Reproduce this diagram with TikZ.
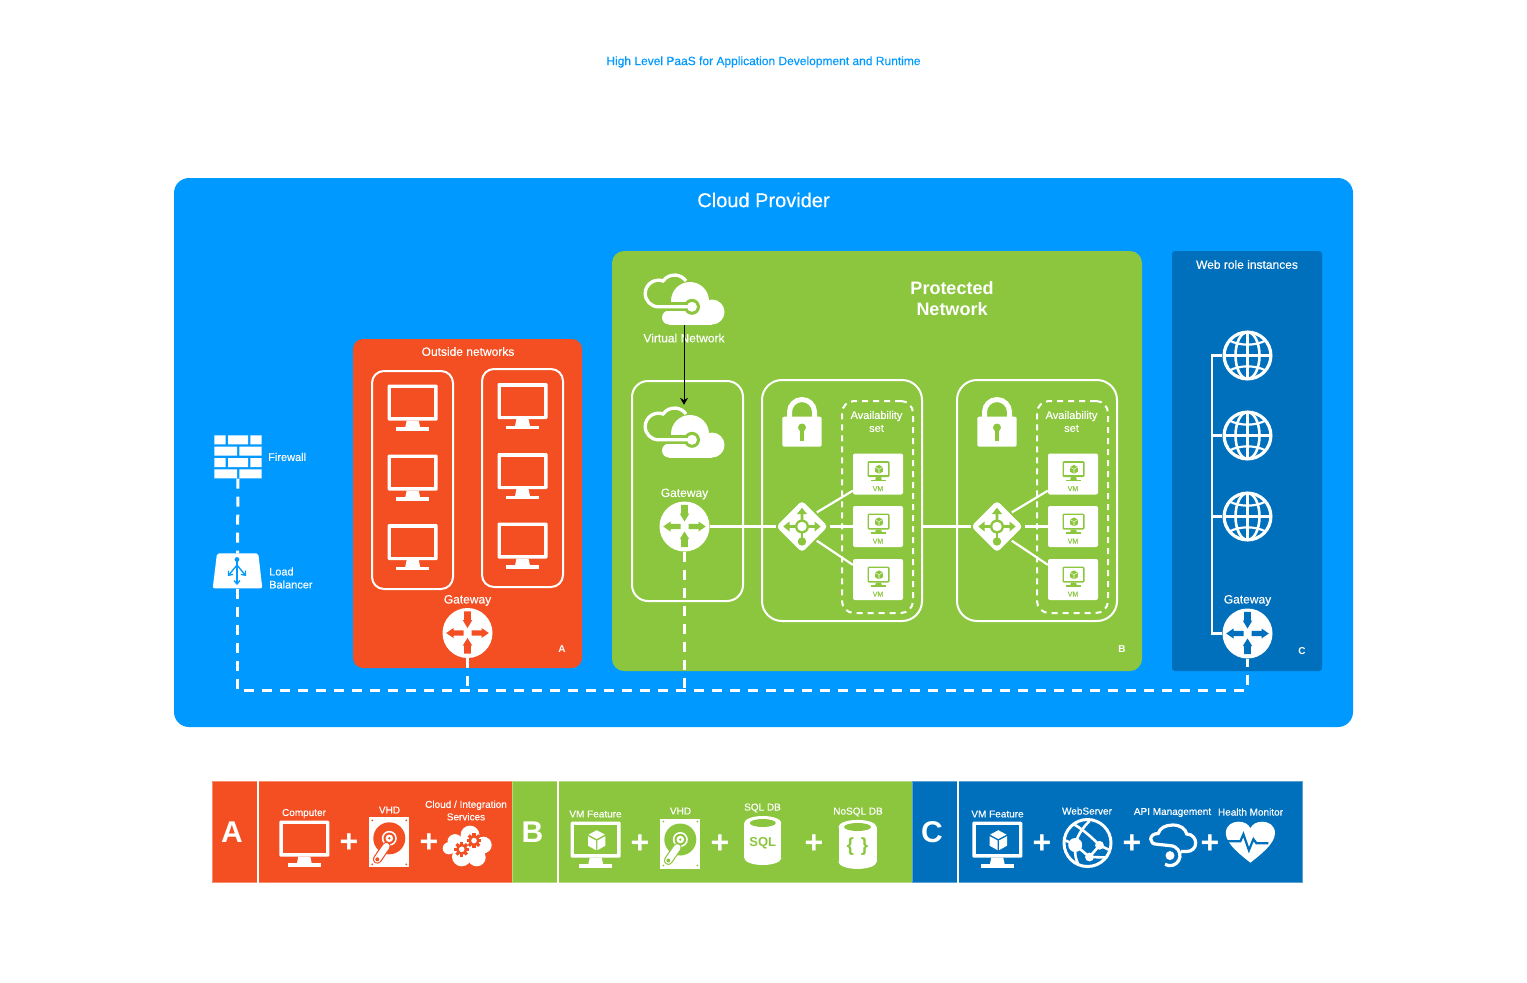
\documentclass[tikz,border=0pt]{standalone}
\usepackage{fontspec}
\setmainfont{Liberation Sans}[FakeBold=0.25,BoldFeatures={FakeBold=0}]
\usetikzlibrary{arrows.meta,shapes.geometric}
\definecolor{cloudblue}{HTML}{0099FF}
\definecolor{orangea}{HTML}{F44F22}
\definecolor{greenb}{HTML}{8CC63E}
\definecolor{bluec}{HTML}{0070BC}
\tikzset{
  whitetext/.style={text=white, inner sep=0pt, align=center},
  txtsm/.style={whitetext, font=\fontsize{10}{12.5}\selectfont},
  txtmd/.style={whitetext, font=\fontsize{11}{13}\selectfont},
  txtlg/.style={whitetext, font=\fontsize{12}{14}\selectfont},
  txtletter/.style={whitetext, font=\fontsize{10}{12}\bfseries\selectfont},
  legendletter/.style={whitetext, font=\fontsize{30}{30}\bfseries\selectfont},
  legendplus/.style={whitetext, font=\fontsize{32}{32}\bfseries\selectfont},
  panel/.style={inner sep=0pt, rounded corners=#1},
  framebox/.style={draw=white, line width=2pt, inner sep=0pt, rounded corners=#1},
  dashbox/.style={draw=white, line width=2pt, dash pattern=on 6pt off 5pt, inner sep=0pt, rounded corners=12pt},
  legendbox/.style={inner sep=0pt, line width=1pt},
  iconspot/.style={inner sep=0pt},
  gwdisc/.style={circle, fill=white, minimum size=50pt, inner sep=0pt},
  routerspot/.style={diamond, fill=white, minimum width=52pt, minimum height=52pt, inner sep=0pt, rounded corners=4pt},
  vmtile/.style={fill=white, rounded corners=2pt, minimum width=50pt, minimum height=41pt, inner sep=0pt, text=greenb, text height=34pt, text depth=0pt, font=\fontsize{7}{7}\selectfont},
  wline/.style={draw=white, line width=2.2pt},
  busline/.style={draw=white, line width=3pt, dash pattern=on 10pt off 8pt},
  pics/monitoricon/.style 2 args={code={
    \fill[#1, rounded corners=1.2pt] (-25,-23) rectangle (25,13);
    \fill[#2] (-21.5,-19.3) rectangle (21.5,9.5);
    \fill[#1] (-6,13) -- (6,13) -- (7.5,20) -- (-7.5,20) -- cycle;
    \fill[#1] (-16.5,19.5) rectangle (16.5,23);
  }},
  pics/vmscreen/.style 2 args={code={
    \pic[transform shape] at (0,0) {monitoricon={#1}{#2}};
    \begin{scope}[shift={(1,-4.5)}]
      \fill[#1] (0,-10) -- (8.2,-5.6) -- (0,-1.2) -- (-8.2,-5.6) -- cycle;
      \fill[#1] (-8.7,-4) -- (-0.7,0.3) -- (-0.7,10) -- (-8.7,5.5) -- cycle;
      \fill[#1] (8.7,-4) -- (0.7,0.3) -- (0.7,10) -- (8.7,5.5) -- cycle;
    \end{scope}
  }},
  pics/vmglyph/.style={code={
    \pic[scale=.44] at (.5,-2.7) {vmscreen={greenb}{white}};
  }},
  pics/gwarrows/.style={code={
    \fill[#1] (-3.3,-21.7) -- (3.3,-21.7) -- (3.3,-13) -- (4.8,-13) -- (0,-5) -- (-4.8,-13) -- (-3.3,-13) -- cycle;
    \fill[#1] (-3.3,20.7) -- (3.3,20.7) -- (3.3,12.7) -- (4.8,12.7) -- (0,5) -- (-4.8,12.7) -- (-3.3,12.7) -- cycle;
    \fill[#1] (-4,-2.7) -- (-14,-2.7) -- (-14,-5) -- (-21.3,0) -- (-14,5) -- (-14,2.7) -- (-4,2.7) -- cycle;
    \fill[#1] (4,-2.7) -- (14,-2.7) -- (14,-5) -- (21.3,0) -- (14,5) -- (14,2.7) -- (4,2.7) -- cycle;
  }},
  pics/routerglyph/.style={code={
    \fill[#1] (-1.3,0) -- (-1.3,-12.5) -- (-5,-12.5) -- (0,-18.7) -- (5,-12.5) -- (1.3,-12.5) -- (1.3,0) -- cycle;
    \fill[#1] (0,-1.3) -- (-12.5,-1.3) -- (-12.5,-5) -- (-18.7,0) -- (-12.5,5) -- (-12.5,1.3) -- (0,1.3) -- cycle;
    \fill[#1] (0,-1.3) -- (12.5,-1.3) -- (12.5,-5) -- (18.7,0) -- (12.5,5) -- (12.5,1.3) -- (0,1.3) -- cycle;
    \fill[#1] (-1.3,0) rectangle (1.3,14);
    \fill[#1] (0,15) circle[radius=4.2];
    \fill[#1] (0,0) circle[radius=7];
    \fill[white] (0,0) circle[radius=4.7];
  }},
  pics/vnetcloud/.style={code={
    \fill[white] (6,2.5) circle[radius=19] (28,13.5) circle[radius=12.5] (-15,19) circle[radius=7];
    \fill[white] (-15,10) rectangle (28,26);
    \draw[#1, line width=9pt] (-24,8.3) -- (8,8.3);
    \fill[#1] (8,8.3) circle[radius=8];
    \fill[white] (8,8.3) circle[radius=5];
    \draw[white, line width=3.3pt] (5,8.3) -- (-25.5,8.3) arc[start angle=90, end angle=290, radius=13.3] arc[start angle=215, end angle=325, radius=14];
  }},
  pics/lockicon/.style={code={
    \draw[white, line width=5pt] (-12.5,-3) -- (-12.5,-10) arc[start angle=180, end angle=360, radius=12.5] -- (12.5,-3);
    \fill[white, rounded corners=2pt] (-19.7,-5.3) rectangle (19.7,24.7);
    \fill[#1] (0,5.5) circle[radius=4];
    \fill[#1] (-2,5.5) rectangle (2,19);
  }},
  pics/gridglobe/.style={code={
    \draw[white, line width=3.2pt] (0,0) circle[radius=23.4];
    \draw[white, line width=2.6pt] (0,0) ellipse[x radius=12, y radius=23.4];
    \draw[white, line width=2.6pt] (0,-23) -- (0,23) (-23,0) -- (23,0);
    \draw[white, line width=2.2pt] (-18,-15) .. controls (-8,-9.5) and (8,-9.5) .. (18,-15);
    \draw[white, line width=2.2pt] (-18,15) .. controls (-8,9.5) and (8,9.5) .. (18,15);
  }},
  pics/firewallicon/.style={code={
    \fill[white] (-23.7,-21.7) rectangle (-12.3,-12.7) (-10,-21.7) rectangle (10,-12.7) (12.3,-21.7) rectangle (23.7,-12.7);
    \fill[white] (-23.7,-10.3) rectangle (-1,-1.3) (1.3,-10.3) rectangle (23.7,-1.3);
    \fill[white] (-23.7,1) rectangle (-12.3,10) (-10,1) rectangle (10,10) (12.3,1) rectangle (23.7,10);
    \fill[white] (-23.7,12.3) rectangle (-1,21.3) (1.3,12.3) rectangle (23.7,21.3);
  }},
  pics/balancericon/.style={code={
    \fill[white, rounded corners=2pt] (-20.5,-17.7) -- (20.8,-17.7) -- (24.8,17.3) -- (-24.8,17.3) -- cycle;
    \fill[cloudblue] (-.5,-11.5) circle[radius=2.4];
    \draw[cloudblue, line width=1.3pt, -{Straight Barb[length=3.5pt,width=6pt]}] (-.5,-11) -- (-.5,14);
    \draw[cloudblue, line width=1.3pt, -{Straight Barb[length=3.5pt,width=6pt]}] (-.5,-6) -- (-9.5,5);
    \draw[cloudblue, line width=1.3pt, -{Straight Barb[length=3.5pt,width=6pt]}] (-.5,-6) -- (8.5,5);
  }},
  pics/hddicon/.style={code={
    \fill[white] (-20,-25) rectangle (20,25);
    \fill[#1] (-17,-22) circle[radius=1] (17,-22) circle[radius=1] (-17,22) circle[radius=1] (17,22) circle[radius=1];
    \fill[#1] (0,-4) circle[radius=16];
    \fill[white] (0,-4) circle[radius=7.5];
    \fill[#1] (0,-4) circle[radius=5.8];
    \fill[white] (0,-4) circle[radius=3.8];
    \fill[#1] (0,-4) circle[radius=1.3];
    \draw[#1, line width=9pt, line cap=round] (-3,4) -- (-12,17);
    \draw[white, line width=6.6pt, line cap=round] (-3,4) -- (-12,17);
    \fill[#1] (-12,17) circle[radius=2];
  }},
  pics/gearmark/.style={code={
    \foreach \a in {0,45,...,315} {
      \fill[#1, rotate=\a] (-1.6,-7.4) rectangle (1.6,0);
    }
    \fill[#1] (0,0) circle[radius=5.6];
    \fill[white] (0,0) circle[radius=2.8];
  }},
  pics/gearcloud/.style={code={
    \fill[white] (-12.7,-4.7) circle[radius=7.5] (2.3,-11.3) circle[radius=9.4] (15.7,-1.3) circle[radius=8.3] (-19,2) circle[radius=6] (-6,10.3) circle[radius=9.7] (9,11) circle[radius=9] (0,0) circle[radius=12];
    \pic at (-6,3) {gearmark=#1};
    \pic at (6.3,-5.7) {gearmark=#1};
  }},
  pics/dbcan/.style={code={
    \fill[white] (0,-17.5) ellipse[x radius=#1, y radius=7] (0,17.5) ellipse[x radius=#1, y radius=7];
    \fill[white] (-#1,-17.5) rectangle (#1,17.5);
  }},
  pics/wwwicon/.style={code={
    \draw[white, line width=3pt] (0,0) circle[radius=23.5];
    \fill[white] (-12.3,2) circle[radius=7] (12,2.3) circle[radius=4.4] (2,14) circle[radius=4.4];
    \draw[white, line width=2.6pt] (-14,-19) .. controls (-4,-13) and (4,-6) .. (12,2.3) -- (22,7);
    \draw[white, line width=2.6pt] (-12.3,2) .. controls (-10,-8) and (-5,-15) .. (2,-22);
    \draw[white, line width=2.6pt] (-12.3,2) -- (2,14) -- (20,14.5);
    \draw[white, line width=2.6pt] (-12.3,2) .. controls (-13,10) and (-12,16) .. (-9,22);
    \draw[white, line width=2.6pt] (12,2.3) -- (2,14) (-23,-3) -- (-12.3,2);
  }},
  pics/apicloud/.style={code={
    \draw[white, line width=3.2pt] (-7.7,19.3) arc[start angle=120, end angle=-90, radius=10] -- (-15,-0.7) .. controls (-20,-0.7) and (-22,-3) .. (-22,-6) .. controls (-22,-9) and (-19,-11.5) .. (-14.5,-11.5) .. controls (-13,-17) and (-7,-20) .. (0,-20) .. controls (8,-20) and (13,-16) .. (14,-11) .. controls (20,-11) and (23,-6) .. (23,-2) .. controls (23,3) and (19,6.5) .. (14,6.5) -- (8.5,6.5);
    \fill[white] (-2.7,10.6) circle[radius=4.5];
  }},
  pics/hearticon/.style={code={
    \fill[white] (0,20.5) .. controls (-8,14) and (-24.6,2) .. (-24.6,-9) .. controls (-24.6,-17) and (-18,-20.5) .. (-12,-20.5) .. controls (-6,-20.5) and (-2,-18) .. (0,-14) .. controls (2,-18) and (6,-20.5) .. (12,-20.5) .. controls (18,-20.5) and (24.6,-17) .. (24.6,-9) .. controls (24.6,2) and (8,14) .. cycle;
    \draw[#1, line width=2.2pt] (-25,-1) -- (-10,-1) -- (-7,-8) -- (-1.5,8) -- (3,-3) -- (6,1) -- (18,1);
  }}
}
\begin{document}
\begin{tikzpicture}[x=1pt, y=-1pt]
  \useasboundingbox (0,0) rectangle (1527,983);
  \node[font=\fontsize{12}{14}\selectfont, text=cloudblue, inner sep=0pt] (maintitle) at (763.5,62) {High Level PaaS for Application Development and Runtime};

  \node[panel=15pt, fill=cloudblue, minimum width=1179pt, minimum height=549pt] (provider) at (763.5,452.5) {};
  \node[whitetext, font=\fontsize{20}{24}\selectfont] (providertitle) at (763.5,200) {Cloud Provider};

  \node[iconspot, minimum width=47pt, minimum height=43pt] (fw) at (238,457) {};
  \pic at (fw) {firewallicon};
  \node[txtmd, anchor=west] (fwtext) at (268,457) {Firewall};
  \node[iconspot, minimum width=49pt, minimum height=35pt] (lb) at (237.5,571) {};
  \node[txtmd, anchor=west, align=left] (lbtext) at (269,578) {Load\\Balancer};

  \node[panel=10pt, fill=orangea, minimum width=229pt, minimum height=329pt] (outside) at (467.5,503.5) {};
  \node[txtlg] (outsidetext) at (468,351.5) {Outside networks};
  \node[framebox=12pt, minimum width=81pt, minimum height=218pt] (outleft) at (412.5,480) {};
  \node[framebox=12pt, minimum width=81pt, minimum height=218pt] (outright) at (522.5,478) {};
  \pic at (412.7,407.5) {monitoricon={white}{orangea}};
  \pic at (412.7,477.5) {monitoricon={white}{orangea}};
  \pic at (412.7,547) {monitoricon={white}{orangea}};
  \pic at (522.5,406) {monitoricon={white}{orangea}};
  \pic at (522.5,476) {monitoricon={white}{orangea}};
  \pic at (522.5,545.5) {monitoricon={white}{orangea}};
  \node[txtlg] (gwatext) at (467.5,600.5) {Gateway};
  \node[gwdisc] (gwa) at (467.5,633) {};
  \pic at (gwa) {gwarrows=orangea};
  \node[txtletter] (tagA) at (562,649) {A};

  \node[panel=12pt, fill=greenb, minimum width=530pt, minimum height=420pt] (protected) at (877,461) {};
  \node[whitetext, font=\fontsize{18}{21}\bfseries\selectfont] (protectedtext) at (952,299) {Protected\\Network};
  \node[iconspot, minimum width=82pt, minimum height=53pt] (vnet) at (684,298.5) {};
  \pic at (vnet) {vnetcloud=greenb};
  \node[txtlg] (vnettext) at (684,338) {Virtual Network};
  \node[framebox=16pt, minimum width=111pt, minimum height=220pt] (gwbox) at (687.5,491) {};
  \node[iconspot, minimum width=82pt, minimum height=53pt] (vgw) at (684,431.5) {};
  \pic at (vgw) {vnetcloud=greenb};
  \node[txtlg] (gwbtext) at (684.5,494) {Gateway};
  \node[gwdisc] (gwb) at (684.5,526.5) {};
  \pic at (gwb) {gwarrows=greenb};
  \draw[black, line width=1pt, -{Stealth[length=7pt,width=8pt]}] (vnet.south) -- (vgw.north);

  \node[framebox=20pt, minimum width=160pt, minimum height=241pt] (setone) at (842,500.5) {};
  \node[iconspot, minimum width=40pt, minimum height=50pt] (lockone) at (802,422) {};
  \pic at (lockone) {lockicon=greenb};
  \node[dashbox, minimum width=71pt, minimum height=212pt] (dashone) at (877.5,507) {};
  \node[txtmd] (dashonetext) at (876.5,421.5) {Availability\\set};
  \node[vmtile] (vma) at (878,474) {VM};
  \node[vmtile] (vmb) at (878,526.5) {VM};
  \node[vmtile] (vmc) at (878,579.5) {VM};
  \pic at (vma) {vmglyph};
  \pic at (vmb) {vmglyph};
  \pic at (vmc) {vmglyph};
  \node[routerspot] (rta) at (802,526.5) {};
  \pic at (rta) {routerglyph=greenb};

  \node[framebox=20pt, minimum width=160pt, minimum height=241pt] (settwo) at (1037,500.5) {};
  \node[iconspot, minimum width=40pt, minimum height=50pt] (locktwo) at (997,422) {};
  \pic at (locktwo) {lockicon=greenb};
  \node[dashbox, minimum width=71pt, minimum height=212pt] (dashtwo) at (1072.5,507) {};
  \node[txtmd] (dashtwotext) at (1071.5,421.5) {Availability\\set};
  \node[vmtile] (vmd) at (1073,474) {VM};
  \node[vmtile] (vme) at (1073,526.5) {VM};
  \node[vmtile] (vmf) at (1073,579.5) {VM};
  \pic at (vmd) {vmglyph};
  \pic at (vme) {vmglyph};
  \pic at (vmf) {vmglyph};
  \node[routerspot] (rtb) at (997,526.5) {};
  \pic at (rtb) {routerglyph=greenb};
  \node[txtletter] (tagB) at (1122,649) {B};

  \draw[wline] (gwb.east) -- (rta.west);
  \draw[wline] (setone.east |- rtb.west) -- (rtb.west);
  \draw[wline, shorten <=2pt] (rta.north east) -- ([yshift=4pt]vma.south west);
  \draw[wline, shorten <=2pt] (rta.east) -- (vmb.west);
  \draw[wline, shorten <=2pt] (rta.south east) -- ([yshift=-6pt]vmc.north west);
  \draw[wline, shorten <=2pt] (rtb.north east) -- ([yshift=4pt]vmd.south west);
  \draw[wline, shorten <=2pt] (rtb.east) -- (vme.west);
  \draw[wline, shorten <=2pt] (rtb.south east) -- ([yshift=-6pt]vmf.north west);

  \node[panel=3pt, fill=bluec, minimum width=150pt, minimum height=420pt] (webrole) at (1247,461) {};
  \node[txtlg] (webroletext) at (1247,264.5) {Web role instances};
  \node[iconspot, circle, minimum size=50pt] (weba) at (1247.5,355.5) {};
  \node[iconspot, circle, minimum size=50pt] (webb) at (1247.5,435.5) {};
  \node[iconspot, circle, minimum size=50pt] (webc) at (1247.5,516.5) {};
  \pic at (weba) {gridglobe};
  \pic at (webb) {gridglobe};
  \pic at (webc) {gridglobe};
  \node[txtlg] (gwctext) at (1247.5,600.5) {Gateway};
  \node[gwdisc] (gwc) at (1247.5,633.5) {};
  \pic at (gwc) {gwarrows=bluec};
  \node[txtletter] (tagC) at (1302,651) {C};
  \coordinate (spinetop) at (1212,355.5);
  \draw[wline] (weba.west) -- (spinetop) |- (gwc.west);
  \draw[wline] (webb.west) -- (webb.west -| spinetop);
  \draw[wline] (webc.west) -- (webc.west -| spinetop);

  \coordinate (buscorner) at (237.5,690);
  \coordinate (busend) at (1247.5,690);
  \draw[busline] (fw.south) -- (lb.north);
  \draw[busline] (lb.south) -- (buscorner) -- (busend) -- (gwc.south);
  \draw[busline] (gwa.south) -- (gwa.south |- buscorner);
  \draw[busline] (gwb.south) -- (gwb.south |- buscorner);
  \pic at (lb) {balancericon};

  \node[legendbox, fill=orangea, draw=orangea!65!white, minimum width=300pt, minimum height=101pt] (legenda) at (362.5,831.5) {};
  \node[legendbox, fill=greenb, draw=greenb!65!white, minimum width=400pt, minimum height=101pt] (legendb) at (712.5,831.5) {};
  \node[legendbox, fill=bluec, draw=bluec!65!white, minimum width=390pt, minimum height=101pt] (legendc) at (1107.5,831.5) {};
  \node[legendletter] (lettera) at (232,832) {A};
  \node[legendletter] (letterb) at (532.5,832) {B};
  \node[legendletter] (letterc) at (932,832) {C};
  \coordinate (sepa) at (257.5,781);
  \coordinate (sepb) at (557.5,781);
  \coordinate (sepc) at (957.5,781);
  \draw[white, line width=2pt] (sepa) -- (sepa |- legenda.south);
  \draw[white, line width=2pt] (sepb) -- (sepb |- legendb.south);
  \draw[white, line width=2pt] (sepc) -- (sepc |- legendc.south);

  \node[txtsm] (computertext) at (304,813.5) {Computer};
  \pic at (304.3,843.7) {monitoricon={white}{orangea}};
  \node[legendplus] (plusa) at (349,843.5) {+};
  \node[txtsm] (vhdatext) at (389.5,810) {VHD};
  \pic at (389.3,842.3) {hddicon=orangea};
  \node[legendplus] (plusb) at (429,843.5) {+};
  \node[txtsm] (cloudtext) at (466,810.5) {Cloud / Integration\\Services};
  \pic at (467.7,846.3) {gearcloud=orangea};

  \node[txtsm] (vmftext) at (595.5,814) {VM Feature};
  \pic at (595.7,844.7) {vmscreen={white}{greenb}};
  \node[legendplus] (plusc) at (640,844) {+};
  \node[txtsm] (vhdbtext) at (680.5,811) {VHD};
  \pic at (680.3,843.5) {hddicon=greenb};
  \node[legendplus] (plusd) at (720,844) {+};
  \node[txtsm] (sqltext) at (762.5,808) {SQL DB};
  \pic at (762.8,840.5) {dbcan=18.5};
  \fill[greenb] (762.8,823) ellipse[x radius=13, y radius=4];
  \node[font=\fontsize{13}{13}\bfseries\selectfont, text=greenb, inner sep=0pt] (sqlmark) at (762.8,843.5) {SQL};
  \node[legendplus] (pluse) at (814,844) {+};
  \node[txtsm] (nosqltext) at (858,812) {NoSQL DB};
  \pic at (857.5,844.4) {dbcan=19};
  \fill[greenb] (857.5,827) ellipse[x radius=13.5, y radius=4];
  \node[font=\fontsize{19}{19}\bfseries\selectfont, text=greenb, inner sep=0pt] (nosqlmark) at (857.5,847) {\{\hspace{7pt}\}};

  \node[txtsm] (vmctext) at (997.5,814) {VM Feature};
  \pic at (997.3,844.7) {vmscreen={white}{bluec}};
  \node[legendplus] (plusf) at (1042,844) {+};
  \node[txtsm] (webservertext) at (1087,811) {WebServer};
  \pic at (1087.5,843) {wwwicon};
  \node[legendplus] (plusg) at (1132,844) {+};
  \node[txtsm] (apitext) at (1172.5,812.5) {API Management};
  \pic at (1172.7,845) {apicloud};
  \node[legendplus] (plush) at (1210,844) {+};
  \node[txtsm] (healthtext) at (1250.5,812) {Health Monitor};
  \pic at (1250.4,842.2) {hearticon=bluec};
\end{tikzpicture}
\end{document}
